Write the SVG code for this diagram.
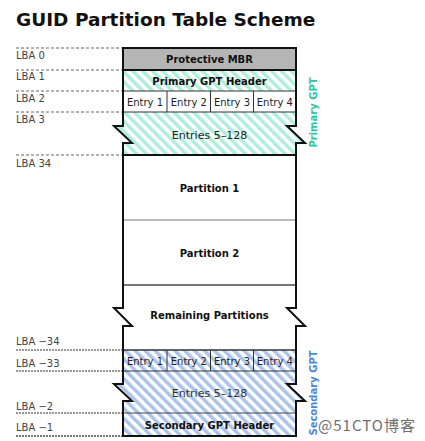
<svg xmlns="http://www.w3.org/2000/svg" width="425" height="441" viewBox="0 0 425 441">
<style>
.t{font-family:"DejaVu Sans","Liberation Sans",sans-serif;font-size:10px;fill:#111;text-anchor:middle}
.b{font-weight:bold}
.lba{font-family:"DejaVu Sans","Liberation Sans",sans-serif;font-size:10px;fill:#444}
.dp{stroke:#666;stroke-width:1;stroke-dasharray:3,2;fill:none}
.ds{stroke:#777;stroke-width:1.6;stroke-dasharray:2,1;fill:none}
.thin{stroke:#333;stroke-width:1;fill:none}
.thick{stroke:#111;stroke-width:2;fill:none}
</style>
<defs>
<pattern id="hatchP" patternUnits="userSpaceOnUse" width="7" height="7" patternTransform="rotate(-45)">
<rect width="7" height="7" fill="#fff"/><rect width="3.5" height="7" fill="#aeeedb"/>
</pattern>
<pattern id="hatchS" patternUnits="userSpaceOnUse" width="7" height="7" patternTransform="rotate(-45)">
<rect width="7" height="7" fill="#fff"/><rect width="3.5" height="7" fill="#abc3ea"/>
</pattern>
<clipPath id="outlineClip">
<path id="outlineShape" d="M123,48 H296 V126 H287 L305,143 H296 V308 H287 L305,326 H296 V384 H287 L305,401 H296 V436 H123 V401 H132 L114,384 H123 V326 H132 L114,308 H123 V143 H132 L114,126 H123 Z"/>
</clipPath>
</defs>
<rect width="425" height="441" fill="#fff"/>
<text x="16" y="26" font-family="DejaVu Sans, Liberation Sans, sans-serif" font-weight="bold" font-size="18.5" fill="#111">GUID Partition Table Scheme</text>

<g id="lba-lines">
<line class="dp" x1="16" y1="48" x2="123" y2="48"/>
<line class="dp" x1="16" y1="70" x2="123" y2="70"/>
<line class="dp" x1="16" y1="91" x2="123" y2="91"/>
<line class="dp" x1="16" y1="112" x2="123" y2="112"/>
<line class="dp" x1="16" y1="155" x2="123" y2="155"/>
<line class="ds" x1="16" y1="350" x2="123" y2="350"/>
<line class="ds" x1="16" y1="371" x2="123" y2="371"/>
<line class="ds" x1="16" y1="413" x2="123" y2="413"/>
<line class="ds" x1="16" y1="436" x2="123" y2="436" style="stroke-width:2"/>
</g>
<g id="lba-labels">
<text class="lba" x="16" y="59">LBA 0</text>
<text class="lba" x="16" y="80">LBA 1</text>
<text class="lba" x="16" y="102">LBA 2</text>
<text class="lba" x="16" y="123">LBA 3</text>
<text class="lba" x="16" y="167">LBA 34</text>
<text class="lba" x="16" y="345">LBA −34</text>
<text class="lba" x="16" y="367">LBA −33</text>
<text class="lba" x="16" y="410">LBA −2</text>
<text class="lba" x="16" y="431">LBA −1</text>
</g>

<g clip-path="url(#outlineClip)">
<rect x="100" y="48" width="220" height="22" fill="#b5b5b5"/>
<rect x="100" y="70" width="220" height="85" fill="url(#hatchP)"/>
<rect x="123" y="91" width="173" height="21" fill="#fff"/>
<rect x="100" y="155" width="220" height="195" fill="#fff"/>
<rect x="100" y="350" width="220" height="90" fill="url(#hatchS)"/>
</g>

<g id="protective-mbr">
<text class="t b" x="209.5" y="63">Protective MBR</text>
</g>
<g id="primary-gpt-header">
<line class="thick" x1="123" y1="70" x2="296" y2="70"/>
<text class="t b" x="209.5" y="85">Primary GPT Header</text>
</g>
<g id="primary-entries">
<line class="thin" x1="123" y1="91" x2="296" y2="91"/>
<line class="thin" x1="123" y1="112" x2="296" y2="112"/>
<line class="thin" x1="167" y1="91" x2="167" y2="112"/>
<line class="thin" x1="210.5" y1="91" x2="210.5" y2="112"/>
<line class="thin" x1="253.5" y1="91" x2="253.5" y2="112"/>
<text class="t" x="145" y="105.5" style="fill:#222">Entry 1</text>
<text class="t" x="188.8" y="105.5" style="fill:#222">Entry 2</text>
<text class="t" x="232" y="105.5" style="fill:#222">Entry 3</text>
<text class="t" x="274.8" y="105.5" style="fill:#222">Entry 4</text>
</g>
<g id="primary-entries-5-128">
<text class="t" x="209.5" y="139" style="fill:#222;font-size:11px">Entries 5–128</text>
</g>
<g id="partition-1">
<line class="thick" x1="123" y1="155" x2="296" y2="155"/>
<text class="t b" x="209.5" y="192">Partition 1</text>
</g>
<g id="partition-2">
<line x1="123" y1="220" x2="296" y2="220" stroke="#777" stroke-width="1"/>
<text class="t b" x="209.5" y="257">Partition 2</text>
</g>
<g id="remaining-partitions">
<line x1="123" y1="285" x2="296" y2="285" stroke="#777" stroke-width="2"/>
<text class="t b" x="209.5" y="319">Remaining Partitions</text>
</g>
<g id="secondary-entries">
<line x1="123" y1="350" x2="296" y2="350" stroke="#333" stroke-width="1.5"/>
<line class="thin" x1="123" y1="371" x2="296" y2="371"/>
<line class="thin" x1="167" y1="350" x2="167" y2="371"/>
<line class="thin" x1="210.5" y1="350" x2="210.5" y2="371"/>
<line class="thin" x1="253.5" y1="350" x2="253.5" y2="371"/>
<text class="t" x="145" y="364.5" style="fill:#222">Entry 1</text>
<text class="t" x="188.8" y="364.5" style="fill:#222">Entry 2</text>
<text class="t" x="232" y="364.5" style="fill:#222">Entry 3</text>
<text class="t" x="274.8" y="364.5" style="fill:#222">Entry 4</text>
</g>
<g id="secondary-entries-5-128">
<text class="t" x="209.5" y="397" style="fill:#333;font-size:11px">Entries 5–128</text>
</g>
<g id="secondary-gpt-header">
<line x1="123" y1="413" x2="296" y2="413" stroke="#444" stroke-width="1"/>
<text class="t b" x="209.5" y="429">Secondary GPT Header</text>
</g>
<g id="outline">
<path d="M123,48 H296 V126 H287 L305,143 H296 V308 H287 L305,326 H296 V384 H287 L305,401 H296 V436 H123 V401 H132 L114,384 H123 V326 H132 L114,308 H123 V143 H132 L114,126 H123 Z" fill="none" stroke="#111" stroke-width="2" stroke-linejoin="miter"/>
</g>
<g id="primary-gpt-label">
<text class="t b" transform="translate(316.5,112.5) rotate(-90)" x="0" y="0" style="fill:#2ec4a6">Primary GPT</text>
</g>
<g id="secondary-gpt-label">
<text class="t b" transform="translate(316.5,393) rotate(-90)" x="0" y="0" style="fill:#4f86d6">Secondary GPT</text>
</g>
<text x="318" y="431" font-family="Noto Sans CJK SC, Noto Sans, sans-serif" font-size="15" fill="#555" opacity="0.85" textLength="97">@51CTO博客</text>
</svg>
